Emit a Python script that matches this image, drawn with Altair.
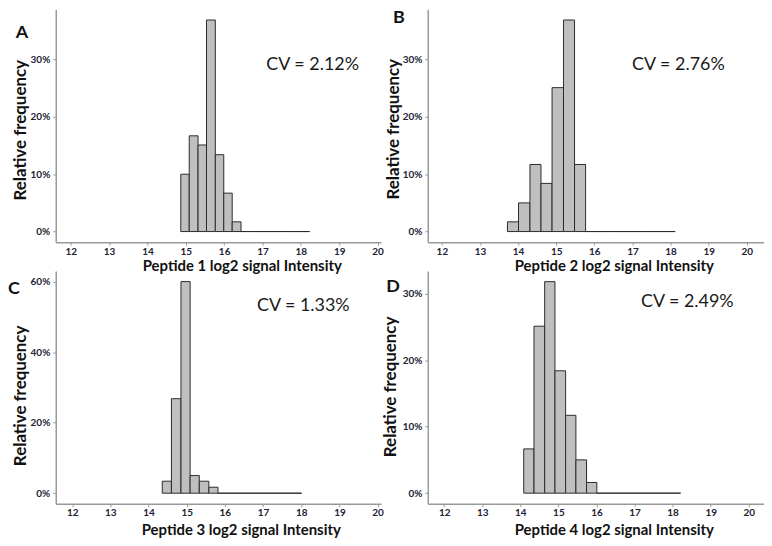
import altair as alt
import pandas as pd

# ---- data ----
edges_1 = [14.87, 15.09, 15.32, 15.54, 15.77, 15.99, 16.21, 16.44, 16.66, 16.89, 17.11, 17.33, 17.56, 17.78, 18.01, 18.23]
freq_1 = [10.0, 16.7, 15.1, 36.9, 13.4, 6.7, 1.7, 0, 0, 0, 0, 0, 0, 0, 0]

edges_2 = [13.72, 14.01, 14.31, 14.60, 14.89, 15.19, 15.48, 15.77, 16.06, 16.36, 16.65, 16.94, 17.24, 17.53, 17.82, 18.12]
freq_2 = [1.7, 5.0, 11.7, 8.4, 25.1, 36.9, 11.7, 0, 0, 0, 0, 0, 0, 0, 0]

edges_3 = [14.36, 14.60, 14.85, 15.09, 15.33, 15.58, 15.82, 16.06, 16.30, 16.55, 16.79, 17.03, 17.28, 17.52, 17.76, 18.01]
freq_3 = [3.4, 26.8, 60.0, 5.0, 3.4, 1.7, 0, 0, 0, 0, 0, 0, 0, 0, 0]

edges_4 = [14.09, 14.36, 14.64, 14.91, 15.19, 15.46, 15.74, 16.01, 16.29, 16.56, 16.84, 17.11, 17.39, 17.66, 17.94, 18.21]
freq_4 = [6.65, 25.1, 31.8, 18.4, 11.7, 5.0, 1.6, 0, 0, 0, 0, 0, 0, 0, 0]

letters = ["A", "B", "C", "D"]
cv_labels = ["CV = 2.12%", "CV = 2.76%", "CV = 1.33%", "CV = 2.49%"]
x_titles = ["Peptide 1 log2 signal Intensity", "Peptide 2 log2 signal Intensity",
            "Peptide 3 log2 signal Intensity", "Peptide 4 log2 signal Intensity"]
x_ticks = [12, 13, 14, 15, 16, 17, 18, 19, 20]
y_ticks_1 = [0, 10, 20, 30]
y_ticks_3 = [0, 20, 40, 60]

FONT = "Lato"


def panel(edges, freqs, xdom, ydom, yticks, w, h, letter, letter_xy, cv, cv_xy,
          xtitle, xtitle_xy, ytitle_xy):
    df = pd.DataFrame({"lo": edges[:-1], "hi": edges[1:], "freq": freqs})
    xscale = alt.Scale(domain=xdom, nice=False, zero=False)
    yscale = alt.Scale(domain=ydom, nice=False, zero=False)
    bars = alt.Chart(df).mark_bar(
        fill="#bfbfbf", stroke="#2b2b2b", strokeWidth=1
    ).encode(
        x=alt.X("lo:Q", scale=xscale,
                axis=alt.Axis(values=x_ticks, title=xtitle, titleX=xtitle_xy[0],
                              titleY=xtitle_xy[1], titleBaseline="middle",
                              titleAlign="center", titleFontSize=15, labelPadding=1)),
        x2="hi:Q",
        y=alt.Y("freq:Q", scale=yscale,
                axis=alt.Axis(values=yticks, title="Relative frequency",
                              labelExpr="datum.value + '%'",
                              titleX=ytitle_xy[0], titleY=ytitle_xy[1],
                              titleBaseline="middle", titleAlign="center",
                              titleAngle=-90, titleFontSize=17, labelPadding=3)),
        y2=alt.datum(0),
    )
    cv_df = pd.DataFrame({"x": [cv_xy[0]], "y": [cv_xy[1]], "t": [cv]})
    cv_text = alt.Chart(cv_df).mark_text(
        align="left", baseline="middle", font=FONT, fontSize=18, color="#1a1a1a"
    ).encode(x="x:Q", y="y:Q", text="t:N")
    let_df = pd.DataFrame({"t": [letter]})
    let_text = alt.Chart(let_df).mark_text(
        align="center", baseline="middle", font=FONT, fontWeight="bold",
        fontSize=18, color="#111111"
    ).encode(x=alt.value(letter_xy[0]), y=alt.value(letter_xy[1]), text="t:N")
    return alt.layer(bars, cv_text, let_text).properties(width=w, height=h)


pA = panel(edges_1, freq_1, [11.61, 20.09], [-1.85, 38.75], y_ticks_1, 327, 234,
           letters[0], (-34, 24), cv_labels[0], (17.10, 29.0), x_titles[0], (187, 23), (-35, 121))
pB = panel(edges_2, freq_2, [11.63, 20.45], [-1.85, 38.75], y_ticks_1, 338, 234,
           letters[1], (-29, 9), cv_labels[1], (16.99, 29.0), x_titles[1], (187, 23), (-34, 120))
pC = panel(edges_3, freq_3, [11.57, 20.09], [-3.0, 63.0], y_ticks_3, 327, 234,
           letters[2], (-42, 18), cv_labels[2], (16.84, 53.1), x_titles[2], (186, 26), (-35, 125))
pD = panel(edges_4, freq_4, [11.57, 20.40], [-1.6, 33.4], y_ticks_1, 338, 234,
           letters[3], (-35, 16), cv_labels[3], (17.17, 28.8), x_titles[3], (187, 26), (-37, 116))

chart = alt.concat(
    pA, pB, pC, pD, columns=2, bounds="flush", align="each",
    spacing={"row": 29, "column": 47}
).properties(
    padding=0
).configure_view(
    stroke=None
).configure_axis(
    grid=False, domainColor="#999999", domainWidth=1.5, tickColor="#999999",
    tickSize=3, tickWidth=1, labelFont=FONT, labelFontWeight="bold", labelFontSize=10,
    labelColor="#222233", titleFont=FONT, titleFontWeight="bold", titleColor="#111111"
)

chart.save("out.html", embed_options={"renderer": "svg", "actions": False})
